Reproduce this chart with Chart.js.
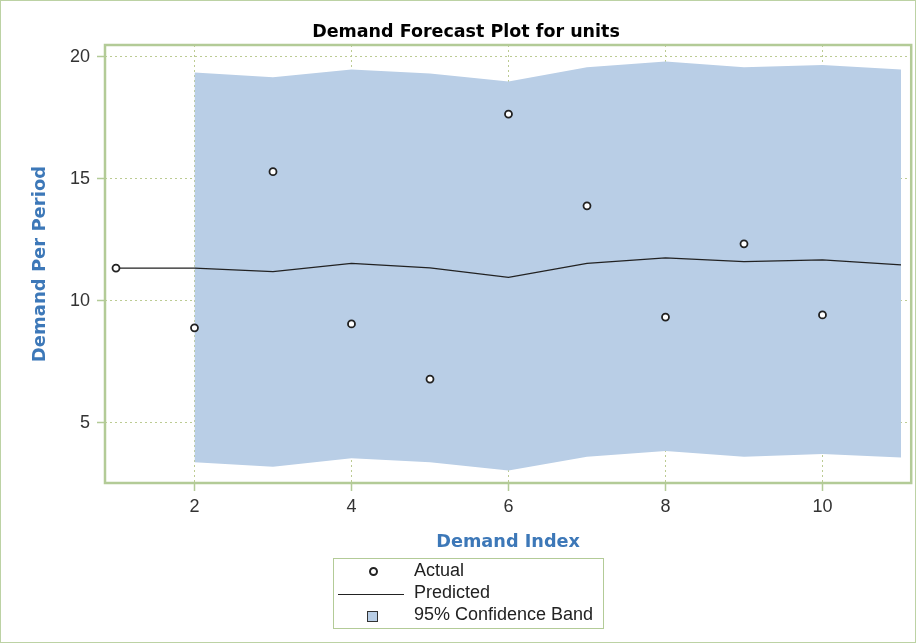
<!DOCTYPE html>
<html>
<head>
<meta charset="utf-8">
<script src="https://cdn.jsdelivr.net/npm/chart.js@4.4.1/dist/chart.umd.min.js"></script>
<style>
    html, body { margin: 0; padding: 0; background: #fff; }
    #wrap { position: relative; width: 917px; height: 644px; }
    #legend {
        position: absolute; left: 333px; top: 558px; width: 271px; height: 71px;
        border: 1px solid #b3cb97; box-sizing: border-box;
        font-family: "Liberation Sans", Arial, sans-serif; font-size: 18px; color: #222;
    }
    .row { position: absolute; left: 0; height: 22px; width: 100%; }
    .row span { position: absolute; left: 80px; top: 0px; }
    .mk { position: absolute; box-sizing: border-box; }
</style>
</head>
<body>
<div id="wrap">
    <canvas id="chart" width="917" height="644"></canvas>
    <div id="legend">
        <div class="row" style="top:1px">
            <div class="mk" style="left:35px;top:7px;width:9px;height:9px;border:2px solid #222;border-radius:50%"></div>
            <span>Actual</span>
        </div>
        <div class="row" style="top:23px">
            <div class="mk" style="left:4px;top:12px;width:66px;height:0;border-top:1.3px solid #222"></div>
            <span>Predicted</span>
        </div>
        <div class="row" style="top:45px">
            <div class="mk" style="left:33px;top:7px;width:11px;height:11px;border:1px solid #333;background:#b9cee6"></div>
            <span>95% Confidence Band</span>
        </div>
    </div>
</div>
<script>
// Werte
const xIndex = [1, 2, 3, 4, 5, 6, 7, 8, 9, 10, 11];
const actual = [11.35, 8.9, 15.3, 9.06, 6.8, 17.66, 13.9, 9.34, 12.34, 9.43];
const predicted = [11.35, 11.35, 11.2, 11.54, 11.36, 10.97, 11.54, 11.77, 11.61, 11.68, 11.48];
const bandX = [2, 3, 4, 5, 6, 7, 8, 9, 10, 11];
const upper95 = [19.36, 19.17, 19.49, 19.32, 18.99, 19.58, 19.81, 19.58, 19.67, 19.49];
const lower95 = [3.39, 3.21, 3.55, 3.39, 3.05, 3.62, 3.85, 3.62, 3.73, 3.58];
const xTicks = [2, 4, 6, 8, 10];
const yTicks = [5, 10, 15, 20];

const FONT = '"Liberation Sans", Arial, sans-serif';
const TFONT = '"DejaVu Sans", Verdana, sans-serif';
const green = '#b3cb97';
const gridGreen = '#bccb92';
const bandColor = '#b9cee6';
const blue = '#3d78b8';

const pts = (xs, ys) => ys.map((y, i) => ({ x: xs[i], y }));

// Rahmen um Plotbereich und Bild
const framePlugin = {
    id: 'frame',
    afterDraw(chart) {
        const { ctx, chartArea: a } = chart;
        ctx.save();
        ctx.strokeStyle = green;
        ctx.lineWidth = 2.5;
        ctx.strokeRect(a.left, a.top, a.right - a.left, a.bottom - a.top);
        ctx.lineWidth = 1;
        ctx.strokeStyle = '#bcd2a4';
        ctx.strokeRect(0.5, 0.5, chart.width - 2, chart.height - 2);
        ctx.restore();
    }
};

new Chart(document.getElementById('chart'), {
    type: 'line',
    data: {
        datasets: [{
            label: 'Actual',
            data: pts(xIndex, actual),
            showLine: false,
            pointRadius: 3.5,
            pointBorderWidth: 1.8,
            pointBorderColor: '#222',
            pointBackgroundColor: '#fff',
        }, {
            label: 'Predicted',
            data: pts(xIndex, predicted),
            borderColor: '#222',
            borderWidth: 1.3,
            pointRadius: 0,
            tension: 0,
        }, {
            label: 'upper',
            data: pts(bandX, upper95),
            borderWidth: 0,
            borderColor: bandColor,
            backgroundColor: bandColor,
            pointRadius: 0,
            fill: '+1',
        }, {
            label: 'lower',
            data: pts(bandX, lower95),
            borderWidth: 0,
            borderColor: bandColor,
            pointRadius: 0,
            fill: false,
        }],
    },
    options: {
        responsive: false,
        animation: false,
        layout: { padding: { top: 0, left: 20, right: 5, bottom: 88 } },
        plugins: {
            legend: { display: false },
            tooltip: { enabled: false },
            title: {
                display: true,
                text: 'Demand Forecast Plot for units',
                color: '#000',
                font: { family: TFONT, size: 17.5, weight: 'bold' },
                padding: { top: 21.5, bottom: 2.5 },
            },
        },
        scales: {
            x: {
                type: 'linear',
                min: 0.86,
                max: 11.13,
                afterBuildTicks: s => { s.ticks = xTicks.map(v => ({ value: v })); },
                afterFit: s => { s.height = 73; },
                grid: { color: gridGreen, lineWidth: 1, tickColor: green, tickLength: 8, tickWidth: 1.5 },
                border: { display: false, dash: [2, 3] },
                ticks: { color: '#333', font: { family: FONT, size: 18 }, padding: 5, maxRotation: 0 },
                title: {
                    display: true, text: 'Demand Index', color: blue,
                    font: { family: TFONT, size: 17.7, weight: 'bold' },
                    padding: { top: 0, bottom: 3 },
                },
            },
            y: {
                min: 2.54,
                max: 20.49,
                afterBuildTicks: s => { s.ticks = yTicks.map(v => ({ value: v })); },
                afterFit: s => { s.width = 85; },
                grid: { color: gridGreen, lineWidth: 1, tickColor: green, tickLength: 8, tickWidth: 1.5 },
                border: { display: false, dash: [2, 3] },
                ticks: { color: '#333', font: { family: FONT, size: 18 }, padding: 7 },
                title: {
                    display: true, text: 'Demand Per Period', color: blue,
                    font: { family: TFONT, size: 18, weight: 'bold' },
                    padding: { top: 9.5, bottom: 0 },
                },
            },
        },
    },
    plugins: [framePlugin],
});
</script>
</body>
</html>
